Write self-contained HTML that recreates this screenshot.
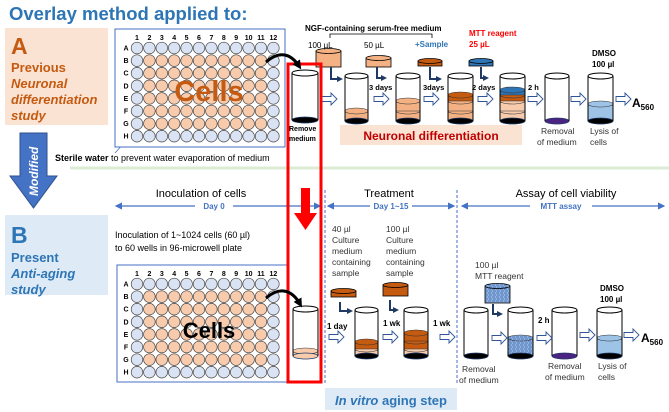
<!DOCTYPE html>
<html><head><meta charset="utf-8"><style>
body{margin:0;background:#fff}
svg{display:block;font-family:"Liberation Sans",Arial,sans-serif}
</style></head><body>
<svg id="s" width="669" height="412" viewBox="0 0 669 412" xmlns="http://www.w3.org/2000/svg">
<defs>
<pattern id="tex" width="4" height="4" patternUnits="userSpaceOnUse"><rect width="4" height="4" fill="#8fb4e3"/><path d="M0 1h3M1 3h3" stroke="#3d64a8" stroke-width="0.8"/></pattern>
<marker id="ah" markerWidth="6" markerHeight="6" refX="5" refY="3" orient="auto"><path d="M0 0L6 3L0 6z" fill="#4472c4"/></marker>
<marker id="bh" markerUnits="userSpaceOnUse" markerWidth="6" markerHeight="6" refX="4" refY="3" orient="auto"><path d="M0 0L6 3L0 6z" fill="#1f3864"/></marker>
<marker id="kh" markerUnits="userSpaceOnUse" markerWidth="9" markerHeight="9" refX="5" refY="4.5" orient="auto"><path d="M0 0L9 4.5L0 9z" fill="#000"/></marker>
</defs>
<text x="9" y="20" font-size="18.5" font-weight="bold" fill="#2e75b6">Overlay method applied to:</text>
<rect x="5" y="28" width="103" height="97" fill="#fbe3d4"/>
<g fill="#c55a11" font-weight="bold"><text x="11" y="54" font-size="23">A</text>
<text x="11" y="72" font-size="13">Previous</text>
<g font-style="italic" font-size="13"><text x="11" y="88">Neuronal</text><text x="11" y="104">differentiation</text><text x="11" y="120">study</text></g></g>
<rect x="5" y="215" width="103" height="80" fill="#deebf7"/>
<g fill="#2e75b6" font-weight="bold"><text x="11" y="243" font-size="23">B</text>
<text x="11" y="262" font-size="13">Present</text>
<g font-style="italic" font-size="13"><text x="11" y="278">Anti-aging</text><text x="11" y="294">study</text></g></g>
<path d="M20 133H47V176H57L33.5 208L10 176H20Z" fill="#4472c4" stroke="#2f528f"/>
<text transform="translate(38,196) rotate(-90)" font-size="12" font-weight="bold" font-style="italic" fill="#fff">Modified</text>
<line x1="70" y1="168" x2="669" y2="168" stroke="#dcebd4" stroke-width="3"/>
<text x="55" y="161" font-size="9"><tspan font-weight="bold">Sterile water</tspan> to prevent water evaporation of medium</text>
<line x1="125" y1="142" x2="115" y2="153" stroke="#4472c4" stroke-width="0.8"/>
<g id="plates"></g>
<g id="tubes"></g>
<text x="305" y="31" font-size="8" font-weight="bold">NGF-containing serum-free medium</text>
<path d="M330 38V34H432V38" fill="none" stroke="#000" stroke-width="0.8"/>
<text x="308" y="48" font-size="8">100 µL</text>
<text x="364" y="48" font-size="8">50 µL</text>
<text x="415" y="47" font-size="8" font-weight="bold" fill="#2e75b6">+Sample</text>
<text x="469" y="36" font-size="8" font-weight="bold" fill="#ff0000">MTT reagent</text>
<text x="469" y="47" font-size="8" font-weight="bold" fill="#ff0000">25 µL</text>
<text x="592" y="56" font-size="8" font-weight="bold">DMSO</text>
<text x="592" y="67" font-size="8" font-weight="bold">100 µl</text>
<g font-size="7.5" font-weight="bold"><text x="369" y="90">3 days</text><text x="423" y="90">3days</text><text x="472" y="90">2 days</text><text x="528" y="90">2 h</text></g>
<text x="289" y="131" font-size="7" font-weight="bold">Remove</text><text x="289" y="141" font-size="7" font-weight="bold">medium</text>
<rect x="340" y="125" width="182" height="20" fill="#fbe3d4"/>
<text x="431" y="140" font-size="12" font-weight="bold" fill="#c00000" text-anchor="middle">Neuronal differentiation</text>
<g font-size="8.5" fill="#333"><text x="541" y="134">Removal</text><text x="537" y="145">of medium</text><text x="590" y="134">Lysis of</text><text x="590" y="145">cells</text></g>
<text x="632" y="107" font-size="12" font-weight="bold">A<tspan font-size="8" dy="3">560</tspan></text>
<g font-size="11"><text x="201" y="197" text-anchor="middle">Inoculation of cells</text><text x="389" y="197" text-anchor="middle">Treatment</text><text x="566" y="197" text-anchor="middle">Assay of cell viability</text></g>
<g stroke="#4472c4" stroke-width="1.2">
<line x1="195" y1="206" x2="116" y2="206" marker-end="url(#ah)"/><line x1="233" y1="206" x2="320" y2="206" marker-end="url(#ah)"/>
<line x1="370" y1="206" x2="328" y2="206" marker-end="url(#ah)"/><line x1="412" y1="206" x2="454" y2="206" marker-end="url(#ah)"/>
<line x1="530" y1="206" x2="462" y2="206" marker-end="url(#ah)"/><line x1="592" y1="206" x2="664" y2="206" marker-end="url(#ah)"/>
</g>
<g font-size="8" font-weight="bold" fill="#4472c4" text-anchor="middle"><text x="214" y="209">Day 0</text><text x="391" y="209">Day 1~15</text><text x="561" y="209">MTT assay</text></g>
<g stroke="#4472c4" stroke-dasharray="3,2" stroke-width="1"><line x1="325" y1="190" x2="325" y2="385"/><line x1="457" y1="190" x2="457" y2="385"/></g>
<text x="115" y="238" font-size="9">Inoculation of 1~1024 cells (60 µl)</text>
<text x="115" y="251" font-size="9">to 60 wells in 96-microwell plate</text>
<g font-size="8.5" fill="#333"><text x="332" y="232">40 µl</text><text x="332" y="243">Culture</text><text x="332" y="254">medium</text><text x="332" y="265">containing</text><text x="332" y="276">sample</text>
<text x="386" y="232">100 µl</text><text x="386" y="243">Culture</text><text x="386" y="254">medium</text><text x="386" y="265">containing</text><text x="386" y="276">sample</text>
<text x="475" y="268">100 µl</text><text x="475" y="279">MTT reagent</text>
<text x="462" y="372">Removal</text><text x="459" y="383">of medium</text><text x="548" y="369">Removal</text><text x="545" y="380">of medium</text><text x="598" y="369">Lysis of</text><text x="598" y="380">cells</text></g>
<text x="600" y="291" font-size="8" font-weight="bold">DMSO</text><text x="600" y="302" font-size="8" font-weight="bold">100 µl</text>
<g font-size="8" font-weight="bold"><text x="327" y="329">1 day</text><text x="383" y="326">1 wk</text><text x="433" y="326">1 wk</text><text x="538" y="323">2 h</text></g>
<text x="641" y="342" font-size="12" font-weight="bold">A<tspan font-size="8" dy="3">560</tspan></text>
<rect x="325" y="388" width="132" height="22" fill="#deebf7"/>
<text x="391" y="405" font-size="13" font-weight="bold" fill="#2e75b6" text-anchor="middle"><tspan font-style="italic">In vitro</tspan> aging step</text>
<rect x="288" y="64" width="33" height="318" fill="none" stroke="#ff0000" stroke-width="3"/>
<path d="M301 188H310V213H317L305.5 230L294 213H301Z" fill="#ff0000"/>
<path d="M266 62C280 50 291 54 299 66" fill="none" stroke="#000" stroke-width="3" marker-end="url(#kh)"/>
<path d="M266 298C280 286 292 290 300 304" fill="none" stroke="#000" stroke-width="3" marker-end="url(#kh)"/>
</svg>
<script>
const NS="http://www.w3.org/2000/svg";
function el(p,t,a,txt){const e=document.createElementNS(NS,t);for(const k in a)e.setAttribute(k,a[k]);if(txt!==undefined)e.textContent=txt;p.appendChild(e);return e;}
const P=document.getElementById('plates'),T=document.getElementById('tubes');
function plate(x,y,w,h,cx0,cy0,cellsTxt,col,fs,ty){
 el(P,'rect',{x:x,y:y,width:w,height:h,fill:'#fff',stroke:'#4472c4','stroke-width':1});
 for(let c=0;c<12;c++)el(P,'text',{x:cx0+c*12.4,y:cy0-8,'font-size':7,'font-weight':'bold','text-anchor':'middle'},c+1);
 for(let r=0;r<8;r++){el(P,'text',{x:cx0-11,y:cy0+r*12.6+2.5,'font-size':7,'font-weight':'bold','text-anchor':'middle'},'ABCDEFGH'[r]);
  for(let c=0;c<12;c++){const edge=r==0||r==7||c==0||c==11;el(P,'circle',{cx:cx0+c*12.4,cy:cy0+r*12.6,r:5.8,fill:edge?'#dae3f3':'#f8cbad',stroke:'#444','stroke-width':0.7});}}
 el(P,'text',{x:209,y:ty,'font-size':fs,'font-weight':'bold',fill:col,'text-anchor':'middle'},cellsTxt);
}
plate(115,29,170,118,137,48,'Cells','#c55a11',29,101);
plate(117,265,170,117,137,284,'Cells','#000',22,338);
function tube(x,y,w,h,layers,bottom){
 const rx=w/2,ry=3,cx=x+rx,b=y+h;
 el(T,'rect',{x:x,y:y,width:w,height:h,fill:'#fff'});
 let cur=b;
 layers.forEach(([lh,c])=>{el(T,'rect',{x:x,y:cur-lh,width:w,height:lh,fill:c,stroke:'#333','stroke-width':0.5});el(T,'ellipse',{cx:cx,cy:cur-lh,rx:rx,ry:ry,fill:c,stroke:'#333','stroke-width':0.6});cur-=lh;});
 el(T,'ellipse',{cx:cx,cy:b,rx:rx,ry:ry,fill:bottom||'#000',stroke:'#1f3864','stroke-width':0.8});
 el(T,'line',{x1:x,y1:y,x2:x,y2:b,stroke:'#000','stroke-width':1});
 el(T,'line',{x1:x+w,y1:y,x2:x+w,y2:b,stroke:'#000','stroke-width':1});
 el(T,'ellipse',{cx:cx,cy:y,rx:rx,ry:ry,fill:'#fff',stroke:'#000','stroke-width':1});
}
function disc(x,y,w,h,c,s){el(T,'rect',{x:x,y:y+2,width:w,height:h-2,fill:c,stroke:s||'#000','stroke-width':0.8});el(T,'ellipse',{cx:x+w/2,cy:y+2,rx:w/2,ry:2.5,fill:c,stroke:s||'#000','stroke-width':0.8});}
function harrow(x,y){el(T,'path',{d:`M${x} ${y-2.5}h9v-3.5l6 6l-6 6v-3.5h-9z`,fill:'#fff',stroke:'#2f5597','stroke-width':0.9});}
function bent(x,y,w,h){el(T,'path',{d:`M${x} ${y}v${h}h${w}`,fill:'none',stroke:'#1f3864','stroke-width':2,'marker-end':'url(#bh)'});}
const pe='#f4b183',pl='#f8cbad',dor='#c55a11',bl='#9dc3e6';
tube(292,73,26,47,[]);
tube(345,76,23,45,[[10,pe]]);tube(396,76,24,45,[[10,pe],[10,pe]]);tube(448,76,25,45,[[10,pe],[10,pe],[6,dor]]);tube(500,76,25,45,[[10,pl],[10,pl],[6,dor],[5,'#2e75b6']]);
tube(545,76,24,45,[],'#4b2483');tube(588,76,25,45,[[17,bl]]);
disc(316,49,25,18,pe);disc(366,56,25,11,pe);disc(418,59,24,7,dor);disc(469,59,24,7,'#2e75b6');
bent(331,67,10,12);bent(377,67,8,11);bent(430,67,10,12);bent(481,67,6,11);
[[322,99],[374,99],[424,99],[478,99],[528,99],[571,99],[616,99]].forEach(a=>harrow(a[0],a[1]));
tube(293,309,25,47,[[5,pl]],pl);
tube(355,310,23,46,[[7,pl],[7,dor]]);tube(404,310,24,46,[[7,pl],[8,dor],[8,dor]]);
tube(464,310,24,46,[]);tube(508,310,25,46,[[18,'url(#tex)']]);tube(552,310,25,46,[],'#4b2483');tube(597,310,25,46,[[18,bl]]);
disc(331,289,25,8,dor);disc(383,283,25,13,dor);disc(485,284,25,19,'url(#tex)');
bent(340,302,11,9);bent(390,300,7,10);bent(493,304,8,10);
[[329,337],[383,337],[440,337],[492,338],[537,338],[580,335],[624,335]].forEach(a=>harrow(a[0],a[1]));
</script>
</body></html>
